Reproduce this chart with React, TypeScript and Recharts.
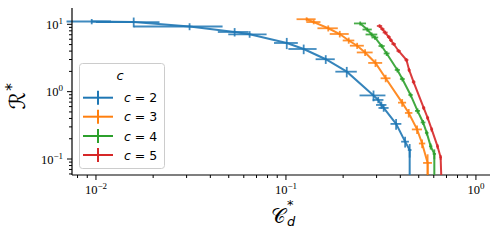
import React from 'react';
import { ScatterChart, Scatter, XAxis, YAxis, ErrorBar, Legend } from 'recharts';

// ---------------- data ----------------
const seriesLabels = ['2', '3', '4', '5'];
const seriesColors = ['#1f77b4', '#ff7f0e', '#2ca02c', '#d62728'];

const c2X = [0.0095, 0.0158, 0.0311, 0.0537, 0.0644, 0.101, 0.124, 0.162, 0.209, 0.289, 0.306, 0.318, 0.327, 0.38, 0.424, 0.448, 0.448];
const c2Y = [11.0, 10.8, 9.27, 7.69, 7.11, 5.28, 4.3, 3.03, 1.98, 0.879, 0.753, 0.635, 0.573, 0.332, 0.181, 0.136, 0.02];
const c2Xerr = [0.0025, 0.0058, 0.0153, 0.0099, 0.0147, 0.0145, 0.021, 0.0187, 0.027, 0.045, 0.02, 0.02, 0.02, 0.025, 0.02, 0.01, 0];
const c2Yerr = [1.0, 1.8, 1.1, 1.1, 0.8, 1.0, 0.7, 0.45, 0.35, 0.16, 0.08, 0.08, 0.07, 0.06, 0.033, 0.031, 0];

const c3X = [0.1285, 0.14, 0.167, 0.192, 0.214, 0.237, 0.261, 0.296, 0.335, 0.409, 0.443, 0.49, 0.521, 0.557, 0.557];
const c3Y = [11.9, 10.8, 8.73, 7.18, 5.75, 4.81, 3.82, 2.67, 1.58, 0.687, 0.483, 0.275, 0.17, 0.0875, 0.02];
const c3Xerr = [0.0148, 0.012, 0.0205, 0.022, 0.015, 0.02, 0.025, 0.025, 0.02, 0.02, 0.02, 0.03, 0.02, 0.03, 0];
const c3Yerr = [0.8, 0.8, 0.9, 0.8, 0.6, 0.5, 0.45, 0.35, 0.2, 0.09, 0.07, 0.04, 0.025, 0.03, 0];

const c4X = [0.246, 0.268, 0.2825, 0.294, 0.319, 0.339, 0.386, 0.41, 0.453, 0.493, 0.527, 0.551, 0.578, 0.604, 0.604];
const c4Y = [10.3, 8.37, 7.06, 6.37, 4.76, 3.69, 2.1, 1.54, 0.893, 0.518, 0.349, 0.244, 0.154, 0.119, 0.02];
const c4Xerr = [0.018, 0.015, 0.02, 0.012, 0.012, 0.012, 0.012, 0.012, 0.012, 0.015, 0.015, 0.012, 0.012, 0.012, 0];
const c4Yerr = [0.7, 0.6, 0.5, 0.45, 0.35, 0.3, 0.17, 0.12, 0.07, 0.045, 0.03, 0.02, 0.016, 0.02, 0];

const c5X = [0.311, 0.322, 0.333, 0.348, 0.357, 0.369, 0.392, 0.431, 0.445, 0.47, 0.531, 0.557, 0.585, 0.628, 0.652, 0.665];
const c5Y = [9.44, 8.5, 7.55, 6.48, 5.8, 5.1, 4.02, 2.95, 2.1, 1.39, 0.573, 0.407, 0.275, 0.154, 0.106, 0.02];
const c5Xerr = [0.01, 0.008, 0.01, 0.008, 0.008, 0.01, 0.01, 0.01, 0.008, 0.01, 0.01, 0.01, 0.01, 0.01, 0.01, 0];
const c5Yerr = [0.6, 0.5, 0.5, 0.4, 0.35, 0.3, 0.25, 0.2, 0.15, 0.1, 0.04, 0.03, 0.02, 0.012, 0.009, 0];

const xDomain = [0.00748, 1.186];
const yDomain = [0.0579, 17.46];
const xMajorTicks = [0.01, 0.1, 1];
const xMajorExps = ['\u22122', '\u22121', '0'];
const xMinorTicks = [0.008, 0.009, 0.02, 0.03, 0.04, 0.05, 0.06, 0.07, 0.08, 0.09, 0.2, 0.3, 0.4, 0.5, 0.6, 0.7, 0.8, 0.9];
const yMajorTicks = [0.1, 1, 10];
const yMajorExps = ['\u22121', '0', '1'];
const yMinorTicks = [0.06, 0.07, 0.08, 0.09, 0.2, 0.3, 0.4, 0.5, 0.6, 0.7, 0.8, 0.9, 2, 3, 4, 5, 6, 7, 8, 9];

const build = (xs: number[], ys: number[], xe: number[], ye: number[]) =>
  xs.map((x, i) => ({ x, y: ys[i], ex: xe[i], ey: ye[i] }));

const allSeries = [
  build(c2X, c2Y, c2Xerr, c2Yerr),
  build(c3X, c3Y, c3Xerr, c3Yerr),
  build(c4X, c4Y, c4Xerr, c4Yerr),
  build(c5X, c5Y, c5Xerr, c5Yerr),
];

// ---------------- helpers ----------------
const TICK_FONT = "'Liberation Serif', serif";
const SANS = "'DejaVu Sans', sans-serif";

const XTick = (props: any) => {
  const { x, y, payload } = props;
  const idx = xMajorTicks.indexOf(payload.value);
  const major = idx >= 0;
  return (
    <g>
      <line x1={x} x2={x} y1={y} y2={y + (major ? 5 : 3)} stroke="#000" strokeWidth={1} />
      {major && (
        <text x={x} y={y + 19} textAnchor="middle" fontFamily={TICK_FONT} fontSize={12.5} fill="#000">
          <tspan>10</tspan>
          <tspan dy={-5} fontSize={9}>{xMajorExps[idx]}</tspan>
        </text>
      )}
    </g>
  );
};

const YTick = (props: any) => {
  const { x, y, payload } = props;
  const idx = yMajorTicks.indexOf(payload.value);
  const major = idx >= 0;
  return (
    <g>
      <line x1={x - (major ? 5 : 3)} x2={x} y1={y} y2={y} stroke="#000" strokeWidth={1} />
      {major && (
        <text x={x - 9} y={y + 4.5} textAnchor="end" fontFamily={TICK_FONT} fontSize={12.5} fill="#000">
          <tspan>10</tspan>
          <tspan dy={-5} fontSize={9}>{yMajorExps[idx]}</tspan>
        </text>
      )}
    </g>
  );
};

const XLabel = (props: any) => {
  const vb = props.viewBox || { x: 72, y: 175, width: 418, height: 66 };
  const cx = vb.x + vb.width / 2;
  const by = vb.y + 48;
  return (
    <text x={cx - 10} y={by} fontFamily={SANS} fill="#000" fontSize={20}>
      <tspan>{'\u{1D49E}'}</tspan>
      <tspan x={cx + 6} dy={-14} fontSize={13}>*</tspan>
      <tspan x={cx + 6} dy={17} fontSize={13} fontStyle="italic">d</tspan>
    </text>
  );
};

const YLabel = (props: any) => {
  const vb = props.viewBox || { x: 0, y: 8, width: 72, height: 167 };
  const ax = vb.x + 25;
  const ay = vb.y + vb.height / 2 + 18;
  return (
    <text x={ax} y={ay} transform={`rotate(-90, ${ax}, ${ay})`} fontFamily={SANS} fill="#000" fontSize={22}>
      <tspan>{'\u211B'}</tspan>
      <tspan dx={1} dy={-8} fontSize={16}>*</tspan>
    </text>
  );
};

const NoShape = () => <g />;

const LegendBox = () => {
  const rowY = [34.7, 53.7, 73, 92];
  return (
    <svg width={86} height={106} style={{ display: 'block' }}>
      <rect x={0.5} y={0.5} width={85} height={105} rx={3} ry={3} fill="#ffffff" fillOpacity={0.8} stroke="#cccccc" strokeWidth={1} />
      <text x={41} y={17} textAnchor="middle" fontFamily={SANS} fontSize={13} fontStyle="italic" fill="#000">c</text>
      {seriesLabels.map((lab, i) => (
        <g key={lab}>
          <line x1={4} x2={34} y1={rowY[i]} y2={rowY[i]} stroke={seriesColors[i]} strokeWidth={2} />
          <line x1={19} x2={19} y1={rowY[i] - 7} y2={rowY[i] + 7} stroke={seriesColors[i]} strokeWidth={2} />
          <text x={45} y={rowY[i] + 4.5} fontFamily={SANS} fontSize={12.5} fill="#000">
            <tspan fontStyle="italic">c</tspan>
            <tspan> = {lab}</tspan>
          </text>
        </g>
      ))}
    </svg>
  );
};

export default function App() {
  return (
    <div style={{ position: 'absolute', left: 0, top: 0, width: 499, height: 241, background: '#fff' }}>
      <ScatterChart width={499} height={241} margin={{ top: 8, right: 9, left: 0, bottom: 0 }}>
        <XAxis
          dataKey="x"
          type="number"
          scale="log"
          domain={xDomain}
          allowDataOverflow
          ticks={[...xMinorTicks, ...xMajorTicks]}
          interval={0}
          tick={<XTick />}
          tickSize={0}
          tickMargin={0}
          tickLine={false}
          height={66}
          axisLine={{ stroke: '#000', strokeWidth: 1.2 }}
          label={XLabel}
        />
        <YAxis
          dataKey="y"
          type="number"
          scale="log"
          domain={yDomain}
          allowDataOverflow
          ticks={[...yMinorTicks, ...yMajorTicks]}
          interval={0}
          tick={<YTick />}
          tickSize={0}
          tickMargin={0}
          tickLine={false}
          width={72}
          axisLine={{ stroke: '#000', strokeWidth: 1.2 }}
          label={YLabel}
        />
        <XAxis
          xAxisId="top"
          orientation="top"
          type="number"
          scale="log"
          domain={xDomain}
          allowDataOverflow
          height={0}
          tick={false}
          tickLine={false}
          axisLine={{ stroke: '#000', strokeWidth: 1.2 }}
        />
        <YAxis
          yAxisId="right"
          orientation="right"
          type="number"
          scale="log"
          domain={yDomain}
          allowDataOverflow
          width={0}
          tick={false}
          tickLine={false}
          axisLine={{ stroke: '#000', strokeWidth: 1.2 }}
        />
        {allSeries.map((data, i) => (
          <Scatter
            key={i}
            name={`c = ${seriesLabels[i]}`}
            data={data}
            line={{ stroke: seriesColors[i], strokeWidth: 2, strokeOpacity: 0.9 }}
            lineType="joint"
            shape={NoShape}
            legendType="none"
            isAnimationActive={false}
          >
            <ErrorBar dataKey="ex" direction="x" width={0} stroke={seriesColors[i]} strokeWidth={1.8} strokeOpacity={0.85} isAnimationActive={false} />
            <ErrorBar dataKey="ey" direction="y" width={0} stroke={seriesColors[i]} strokeWidth={1.8} strokeOpacity={0.85} isAnimationActive={false} />
          </Scatter>
        ))}
        <Legend
          layout="vertical"
          align="center"
          verticalAlign="middle"
          content={LegendBox}
          wrapperStyle={{ left: 79, top: 63, width: 86, height: 106 }}
        />
      </ScatterChart>
    </div>
  );
}
